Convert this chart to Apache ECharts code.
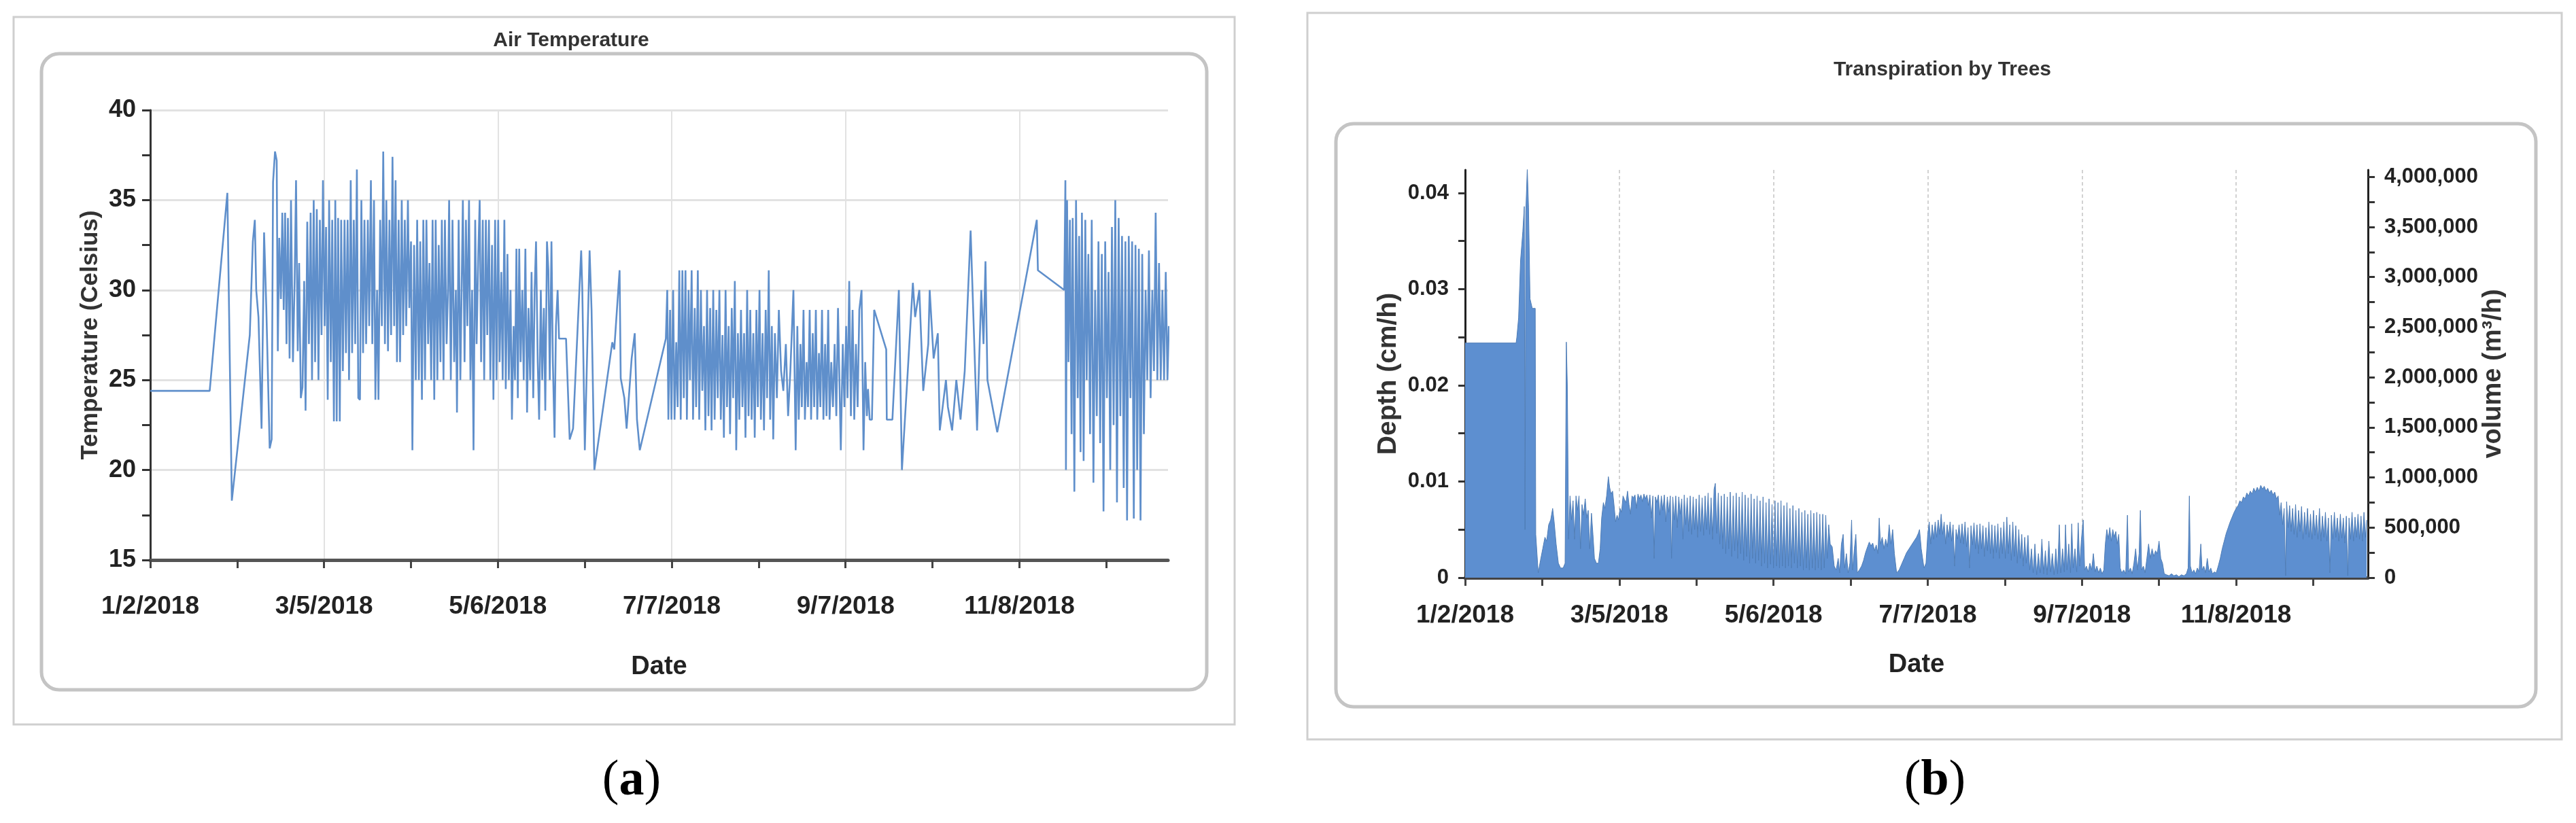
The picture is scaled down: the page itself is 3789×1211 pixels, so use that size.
<!DOCTYPE html>
<html><head><meta charset="utf-8">
<script src="https://cdn.jsdelivr.net/npm/echarts@6/dist/echarts.min.js"></script>
<style>html,body{margin:0;padding:0;background:#fff}#c{width:3789px;height:1211px}</style>
</head><body><div id="c"></div>
<script>
// ---- tick labels ----
const dateTickLabels = ['1/2/2018','3/5/2018','5/6/2018','7/7/2018','9/7/2018','11/8/2018'];
const dateLabelDays = [0,62,124,186,248,310];          // days since 1/2/2018
const dateTickDays = [0,31,62,93,124,155,186,217,248,279,310,341];
const depthTickLabels = ['0','0.01','0.02','0.03','0.04'];
const depthLabelValues = [0,0.01,0.02,0.03,0.04];
const depthTickValues = [0,0.005,0.01,0.015,0.02,0.025,0.03,0.035,0.04];
const volumeTickLabels = ['0','500,000','1,000,000','1,500,000','2,000,000','2,500,000','3,000,000','3,500,000','4,000,000'];
const volumeLabelValues = [0,500000,1000000,1500000,2000000,2500000,3000000,3500000,4000000];
const volumeTickValues = [0,250000,500000,750000,1000000,1250000,1500000,1750000,2000000,2250000,2500000,2750000,3000000,3250000,3500000,3750000,4000000];

// ---- (a) air temperature: [day since 1/2/2018, °C] ----
const airTemp = [
[0,24.4],[21.2,24.4],[27.5,35.4],[29.1,18.3],[35.5,27.5],[36.6,32.7],[37.3,33.9],[37.8,30.0],[38.6,28.5],[39.7,22.3],[40.6,33.2],[41.4,29.0],[42.6,21.2],[43.3,21.7],[43.8,36.0],[44.5,37.7],[45.1,37.2],[45.5,26.6],[46.0,32.9],[46.6,29.5],[47.1,34.3],[47.6,28.9],[48.1,34.3],[48.6,27.0],[49.1,34.0],[49.7,26.2],[50.2,35.0],[50.9,26.0],[51.5,30.5],[52.0,36.1],[52.6,26.6],[53.1,31.5],[53.7,24.0],[54.3,24.6],[54.9,30.5],[55.4,23.3],[56.0,33.8],[56.6,27.0],[57.2,34.3],[57.7,25.0],[58.3,35.0],[58.8,26.0],[59.4,34.5],[60.0,25.0],[60.5,33.9],[61.1,27.5],[61.6,36.1],[62.2,28.0],[62.7,33.5],[63.3,23.9],[63.8,35.0],[64.4,26.0],[64.9,33.9],[65.5,22.7],[66.0,35.0],[66.5,22.7],[67.0,34.0],[67.6,22.7],[68.1,33.9],[68.7,25.5],[69.3,33.9],[69.8,26.5],[70.4,33.9],[70.9,25.0],[71.5,36.1],[72.0,26.5],[72.6,33.9],[73.1,27.0],[73.7,36.7],[74.2,24.0],[74.8,23.9],[75.3,35.0],[75.9,26.5],[76.4,33.9],[77.0,27.0],[77.6,33.9],[78.1,28.0],[78.7,36.1],[79.2,27.0],[79.8,35.0],[80.3,23.9],[80.9,30.0],[81.4,23.9],[82.0,33.9],[82.6,28.0],[83.1,37.7],[83.7,27.0],[84.2,35.0],[84.8,26.6],[85.3,33.9],[85.9,27.5],[86.4,37.4],[87.0,28.0],[87.5,36.1],[88.0,26.0],[88.6,33.9],[89.1,26.0],[89.7,35.0],[90.2,27.5],[90.8,33.9],[91.3,28.0],[91.9,35.0],[92.4,29.0],[93.0,32.7],[93.5,21.1],[94.1,32.5],[94.7,25.0],[95.2,33.9],[95.8,25.0],[96.3,32.7],[96.9,23.9],[97.4,33.9],[98.0,25.0],[98.5,33.9],[99.1,27.0],[99.6,31.5],[100.2,25.0],[100.7,33.9],[101.3,23.9],[101.8,33.9],[102.4,25.0],[102.9,32.5],[103.5,26.0],[104.0,33.9],[104.6,25.0],[105.1,33.9],[105.7,27.0],[106.2,30.0],[106.6,35.0],[107.2,25.0],[107.8,33.9],[108.4,26.0],[109.0,30.0],[109.4,23.2],[110.0,33.9],[110.6,25.0],[111.1,30.5],[111.5,35.0],[112.1,26.0],[112.6,33.9],[113.1,28.0],[113.7,35.0],[114.2,25.0],[114.8,30.0],[115.3,21.1],[115.9,33.9],[116.4,27.0],[117.0,32.0],[117.5,35.0],[118.0,26.0],[118.6,33.9],[119.1,25.0],[119.7,33.9],[120.2,27.5],[120.8,33.9],[121.3,25.0],[121.9,32.5],[122.4,23.9],[123.0,33.9],[123.5,25.0],[124.1,33.9],[124.6,26.0],[125.2,31.0],[125.7,25.0],[126.3,33.9],[126.8,24.5],[127.4,32.0],[127.9,25.0],[128.5,30.0],[129.0,22.8],[129.6,28.0],[130.1,25.0],[130.6,32.3],[131.1,24.0],[131.6,32.3],[132.1,26.0],[132.7,30.0],[133.2,25.0],[133.8,32.3],[134.4,23.2],[134.9,29.0],[135.5,25.0],[136.0,31.0],[136.6,24.0],[137.1,30.0],[137.6,32.7],[138.2,26.0],[138.7,22.8],[139.3,30.0],[139.8,25.0],[140.4,29.0],[140.9,23.3],[141.5,32.7],[142.0,31.1],[142.5,25.0],[143.1,32.7],[143.6,26.0],[144.2,21.8],[144.7,28.0],[145.3,30.0],[145.8,27.3],[148.3,27.3],[149.6,21.7],[150.8,22.3],[153.7,32.2],[154.1,30.0],[155.0,21.1],[156.7,32.2],[157.4,28.9],[158.4,20.0],[164.8,27.1],[165.5,26.7],[167.4,31.1],[167.8,25.1],[169.1,24.0],[169.9,22.3],[171.7,26.2],[172.8,27.6],[173.6,22.8],[174.6,21.1],[183.9,27.3],
[184.4,30.0],[184.8,22.8],[185.4,28.9],[185.9,22.8],[186.5,30.0],[187.0,22.8],[187.6,27.1],[188.1,23.5],[188.7,31.1],[189.2,22.8],[189.8,31.1],[190.3,24.0],[190.9,31.1],[191.4,22.8],[192.0,30.0],[192.5,25.0],[193.1,31.1],[193.6,22.8],[194.2,29.0],[194.7,23.5],[195.3,31.1],[195.8,22.8],[196.4,30.0],[196.9,24.4],[197.5,28.0],[198.0,22.2],[198.6,30.0],[199.1,23.0],[199.7,29.0],[200.2,22.2],[200.8,30.0],[201.3,22.8],[201.9,28.9],[202.4,24.0],[203.0,30.0],[203.5,22.8],[204.1,27.5],[204.6,21.8],[205.2,30.0],[205.7,23.5],[206.3,28.0],[206.8,22.0],[207.4,29.0],[207.9,24.0],[208.5,30.5],[209.0,21.1],[209.6,27.6],[210.1,22.8],[210.7,28.9],[211.2,23.5],[211.8,27.6],[212.3,21.8],[212.9,30.0],[213.4,23.0],[214.0,28.9],[214.5,22.8],[215.1,27.6],[215.6,21.8],[216.2,28.9],[216.7,23.5],[217.3,30.0],[217.8,22.8],[218.4,27.6],[218.9,22.2],[219.5,28.9],[220.0,24.0],[220.6,31.1],[221.1,22.8],[221.7,28.0],[222.2,21.7],[222.8,27.6],[223.5,24.0],[224.2,28.9],[225.0,25.5],[225.8,24.4],[226.7,27.0],[227.5,23.0],[228.3,25.5],[229.4,30.0],[230.2,21.1],[230.8,28.0],[231.3,22.8],[231.9,27.0],[232.4,23.5],[233.0,28.9],[233.5,22.8],[234.1,26.0],[234.6,23.5],[235.2,28.9],[235.7,22.8],[236.3,27.6],[236.8,23.5],[237.4,28.9],[237.9,22.8],[238.5,26.5],[239.0,23.5],[239.6,28.9],[240.1,22.8],[240.7,27.0],[241.2,23.0],[241.8,28.9],[242.3,22.8],[242.9,26.0],[243.5,23.5],[244.1,27.0],[244.7,23.0],[245.3,29.0],[246.3,21.1],[247.0,27.0],[247.6,23.5],[248.2,28.0],[248.7,24.0],[249.3,30.5],[249.9,23.0],[250.5,28.9],[251.1,22.8],[251.7,27.0],[252.3,23.5],[252.9,28.9],[253.7,30.0],[254.4,21.1],[255.0,26.0],[255.6,23.0],[256.0,24.5],[256.6,22.8],[257.4,22.8],[258.2,28.9],[262.5,26.7],[262.7,22.8],[264.7,22.8],[267.0,30.0],[268.1,20.0],[270.0,25.0],[272.0,30.4],[272.8,28.5],[274.3,30.0],[275.7,24.4],[277.5,27.0],[278.0,30.0],[279.4,26.2],[280.9,27.6],[281.6,22.2],[283.8,25.0],[284.5,23.5],[286.0,22.2],[287.5,25.0],[289.0,22.8],[290.5,25.5],[292.6,33.3],[294.9,22.2],[296.4,30.0],[297.2,27.0],[297.9,31.6],[298.6,25.0],[302.1,22.1],[316.2,33.9],[316.6,31.1],[326.0,30.0],[326.4,36.1],
[326.6,20.0],[327.0,35.0],[327.5,26.0],[328.0,33.9],[328.6,22.0],[329.0,34.0],[329.6,18.8],[330.2,35.0],[330.8,24.0],[331.3,33.0],[331.8,21.0],[332.3,34.3],[332.9,20.5],[333.5,33.9],[334.0,25.0],[334.6,32.0],[335.2,22.0],[335.8,33.9],[336.4,19.3],[337.0,30.0],[337.6,23.0],[338.2,32.7],[338.8,21.5],[339.4,32.0],[340.0,17.7],[340.6,32.7],[341.2,24.0],[341.8,31.0],[342.4,20.0],[343.0,33.5],[343.6,22.5],[344.2,35.0],[344.8,18.2],[345.4,34.0],[346.0,23.0],[346.6,33.0],[347.2,19.0],[347.8,32.7],[348.4,17.2],[349.0,33.0],[349.6,24.0],[350.2,32.7],[350.8,17.3],[351.4,32.5],[352.0,20.0],[352.6,32.3],[353.2,17.2],[353.8,32.0],[354.4,22.0],[355.0,30.0],[355.6,25.0],[356.2,32.2],[356.8,24.0],[357.4,30.0],[358.0,25.5],[358.6,34.3],[359.2,25.0],[359.8,31.5],[360.4,25.0],[361.0,30.0],[361.6,25.0],[362.2,31.0],[362.8,25.0],[363.3,28.0]
];

// ---- (b) transpiration depth: [day since 1/2/2018, cm/h] ----
const transpDepth = [
[0,0.0244],[20.5,0.0244],[20.8,0.025],[21.5,0.027],[22.3,0.033],[23.2,0.036],[23.8,0.0386],[24.1,0.005],[24.4,0.038],[25.0,0.0425],[25.5,0.0385],[26.1,0.029],[27.0,0.028],[28.2,0.028],[28.4,0.0045],[29.4,0.0005],[30.3,0.0018],[31.2,0.003],[32.1,0.0042],[32.8,0.0038],[33.6,0.0055],[34.4,0.006],[35.2,0.0072],[35.8,0.0058],[36.6,0.0035],[37.5,0.0015],[38.4,0.001],[39.4,0.001],[40.2,0.0015],[40.7,0.0245],[41.1,0.02],[41.6,0.004],[42.2,0.0085],[42.8,0.006],[43.4,0.008],[44.0,0.004],[44.6,0.0085],[45.2,0.007],[45.8,0.0085],[46.4,0.003],[47.0,0.0076],[47.6,0.0065],[48.3,0.0082],[48.9,0.0062],[49.5,0.007],[50.1,0.003],[50.8,0.0067],[51.4,0.0045],[52.0,0.002],[52.8,0.0015],[53.6,0.0015],[54.3,0.003],[54.9,0.0062],[55.6,0.0078],[56.2,0.0072],[56.9,0.0085],[57.6,0.0105],[58.1,0.0094],[58.7,0.0087],[59.3,0.009],[59.9,0.0075],[60.5,0.0058],[61.1,0.0065],[61.7,0.006],[62.3,0.0072],[62.9,0.0068],[63.5,0.0085],[64.1,0.0081],[64.7,0.0078],[65.3,0.009],[65.9,0.0076],[66.5,0.0066],[67.1,0.0085],[67.7,0.0083],[68.3,0.0086],[68.9,0.0072],[69.5,0.0087],[70.1,0.0082],[70.7,0.0086],[71.3,0.0079],[71.9,0.0087],[72.5,0.0082],[73.1,0.0086],[73.7,0.0075],[74.3,0.0086],[74.9,0.0062],[75.5,0.0085],[76.0,0.002],[76.5,0.0084],[77.1,0.0078],[77.7,0.0086],[78.3,0.0065],[78.9,0.0085],[79.5,0.007],[80.1,0.0086],[80.7,0.0058],[81.3,0.0084],[81.9,0.0068],[82.5,0.0085],[83.0,0.002],[83.5,0.0084],[84.1,0.006],[84.7,0.0085],[85.3,0.0052],[85.9,0.0084],[86.5,0.0066],[87.1,0.0082],[87.6,0.004],[88.1,0.0086],[88.7,0.0055],[89.3,0.0083],[89.9,0.0048],[90.5,0.0085],[91.1,0.0045],[91.7,0.0084],[92.3,0.005],[92.9,0.0082],[93.5,0.0042],[94.1,0.0086],[94.7,0.0048],[95.3,0.0083],[95.9,0.0044],[96.5,0.0085],[97.1,0.005],[97.7,0.0088],[98.3,0.0045],[98.9,0.0083],[99.5,0.004],[100.1,0.0092],[100.6,0.0098],[101.2,0.0046],[101.8,0.0088],[102.4,0.0035],[103.0,0.0085],[103.6,0.003],[104.2,0.0087],[104.8,0.0025],[105.4,0.0084],[106.0,0.003],[106.6,0.0089],[107.2,0.0022],[107.8,0.0085],[108.4,0.0028],[109.0,0.0088],[109.6,0.002],[110.2,0.0084],[110.8,0.0025],[111.4,0.0089],[112.0,0.0018],[112.6,0.0086],[113.2,0.0022],[113.8,0.0083],[114.4,0.0015],[115.0,0.0087],[115.6,0.002],[116.2,0.0082],[116.8,0.0015],[117.4,0.0085],[118.0,0.0018],[118.6,0.008],[119.2,0.0012],[119.8,0.0084],[120.4,0.0015],[121.0,0.0078],[121.6,0.001],[122.2,0.0082],[122.8,0.0014],[123.4,0.0076],[124.0,0.001],[124.6,0.008],[125.2,0.0012],[125.8,0.0078],[126.4,0.001],[127.0,0.008],[127.6,0.0012],[128.2,0.0075],[128.8,0.001],[129.4,0.0078],[130.0,0.0012],[130.6,0.0072],[131.2,0.001],[131.8,0.0075],[132.4,0.0015],[133.0,0.007],[133.6,0.001],[134.2,0.0072],[134.8,0.0012],[135.4,0.0068],[136.0,0.0008],[136.6,0.007],[137.2,0.001],[137.8,0.0066],[138.4,0.0008],[139.0,0.007],[139.6,0.001],[140.2,0.0067],[140.8,0.0008],[141.4,0.0068],[142.0,0.001],[142.6,0.0066],[143.2,0.0008],[143.8,0.0066],[144.4,0.001],[145.0,0.0065],[145.6,0.002],[146.2,0.0055],[146.8,0.0035],[147.6,0.0032],[148.4,0.0012],[149.2,0.0008],[150.0,0.002],[150.6,0.0005],[151.3,0.0035],[152.0,0.0045],[152.6,0.001],[153.3,0.0025],[154.0,0.0005],[154.7,0.0015],[155.4,0.006],[155.8,0.0008],[156.5,0.003],[157.1,0.0045],[157.7,0.0005],[158.5,0.0008],[159.4,0.0012],[160.2,0.0018],[161.0,0.0026],[161.8,0.0032],[162.5,0.0037],[163.2,0.0033],[163.9,0.0036],[164.6,0.0028],[165.3,0.0034],[166.0,0.0025],[166.5,0.0062],[167.0,0.0035],[167.7,0.0042],[168.4,0.003],[169.1,0.004],[169.8,0.0032],[170.5,0.0055],[171.2,0.0035],[171.9,0.005],[172.6,0.0025],[173.5,0.0005],[174.5,0.0008],[175.5,0.0014],[176.5,0.002],[177.5,0.0026],[178.5,0.003],[179.5,0.0034],[180.5,0.0038],[181.5,0.0042],[182.2,0.0046],[182.7,0.005],[183.4,0.003],[184.5,0.001],[185.3,0.0015],[186.0,0.0045],[186.6,0.0058],[187.2,0.0035],[187.8,0.0055],[188.4,0.004],[189.0,0.0058],[189.6,0.0042],[190.2,0.006],[190.8,0.0045],[191.4,0.0066],[192.0,0.0045],[192.6,0.0058],[193.2,0.0035],[193.8,0.0055],[194.4,0.0042],[195.0,0.0058],[195.6,0.0038],[196.2,0.0055],[196.8,0.0012],[197.4,0.005],[198.0,0.004],[198.6,0.0055],[199.2,0.0036],[199.8,0.0056],[200.4,0.0035],[201.0,0.0058],[201.6,0.0032],[202.2,0.0052],[202.8,0.001],[203.4,0.0054],[204.0,0.0034],[204.6,0.0057],[205.2,0.003],[205.8,0.0055],[206.4,0.0025],[207.0,0.0056],[207.6,0.003],[208.2,0.0054],[208.8,0.0022],[209.4,0.0052],[210.0,0.0028],[210.6,0.0058],[211.2,0.0025],[211.8,0.0055],[212.4,0.002],[213.0,0.0054],[213.6,0.0026],[214.2,0.0056],[214.8,0.002],[215.4,0.0052],[216.0,0.0025],[216.6,0.0058],[217.2,0.002],[217.8,0.0063],[218.4,0.0025],[219.0,0.0055],[219.6,0.0018],[220.2,0.0058],[220.8,0.0022],[221.4,0.0054],[222.0,0.0015],[222.6,0.005],[223.2,0.002],[223.8,0.0045],[224.4,0.0012],[225.0,0.0042],[225.6,0.0015],[226.3,0.0044],[227.0,0.0008],[227.7,0.003],[228.4,0.0005],[229.1,0.0035],[229.8,0.0003],[230.5,0.0025],[231.2,0.0005],[231.9,0.004],[232.6,0.0004],[233.3,0.0028],[234.0,0.0003],[234.7,0.0038],[235.4,0.0006],[236.1,0.0025],[236.8,0.0003],[237.5,0.003],[238.2,0.0004],[238.9,0.0055],[239.5,0.0005],[240.2,0.003],[240.9,0.0006],[241.4,0.0055],[242.0,0.0008],[242.7,0.0035],[243.4,0.0005],[243.9,0.0056],[244.5,0.001],[245.2,0.003],[245.9,0.0006],[246.5,0.0057],[247.1,0.0012],[247.8,0.004],[248.5,0.006],[249.1,0.0008],[249.8,0.0012],[250.5,0.0006],[251.2,0.0015],[251.9,0.0008],[252.6,0.0025],[253.3,0.0006],[254.0,0.0012],[254.7,0.0005],[255.4,0.001],[256.1,0.0004],[256.8,0.0008],[257.4,0.0035],[258.0,0.005],[258.6,0.004],[259.2,0.0052],[259.8,0.0038],[260.4,0.005],[261.0,0.0042],[261.6,0.0048],[262.2,0.0035],[262.8,0.0045],[263.4,0.001],[264.0,0.0005],[264.8,0.0008],[265.6,0.0004],[266.3,0.0065],[266.8,0.0006],[267.5,0.001],[268.2,0.0004],[268.9,0.0015],[269.6,0.003],[270.3,0.0008],[271.0,0.0025],[271.5,0.007],[272.0,0.0008],[272.7,0.0012],[273.4,0.0005],[274.1,0.002],[274.8,0.0035],[275.5,0.002],[276.2,0.003],[276.9,0.0022],[277.6,0.0028],[278.3,0.0025],[279.0,0.0038],[279.7,0.002],[280.4,0.0015],[281.1,0.0004],[282.0,0.0003],[283.0,0.0002],[284.0,0.0004],[285.0,0.0002],[286.0,0.0003],[287.0,0.0001],[288.0,0.0003],[289.0,0.0002],[290.0,0.0004],[290.7,0.001],[291.2,0.0085],[291.6,0.0012],[292.3,0.0005],[293.0,0.0008],[293.7,0.0004],[294.4,0.001],[295.1,0.0006],[295.8,0.0035],[296.3,0.0008],[297.0,0.0012],[297.7,0.0005],[298.4,0.002],[299.1,0.0006],[299.8,0.001],[300.5,0.0004],[301.2,0.0006],[302.0,0.0005],[302.8,0.0012],[303.6,0.002],[304.4,0.003],[305.2,0.0038],[306.0,0.0046],[306.8,0.0052],[307.6,0.0058],[308.4,0.0063],[309.2,0.0068],[310.0,0.0072],[310.8,0.0075],[311.5,0.008],[312.2,0.0078],[312.9,0.0084],[313.6,0.0082],[314.3,0.0088],[315.0,0.0085],[315.7,0.009],[316.4,0.0087],[317.1,0.0093],[317.8,0.0089],[318.5,0.0094],[319.2,0.009],[319.9,0.0096],[320.6,0.0092],[321.3,0.0095],[322.0,0.009],[322.7,0.0093],[323.4,0.0088],[324.1,0.0091],[324.8,0.0086],[325.5,0.0089],[326.2,0.0082],[326.9,0.0085],[327.5,0.0065],[328.1,0.0078],[328.7,0.0055],[329.3,0.0072],[329.9,0.0002],[330.3,0.0079],[330.9,0.0052],[331.5,0.0075],[332.1,0.0048],[332.7,0.0072],[333.3,0.0045],[333.9,0.0076],[334.5,0.0042],[335.1,0.007],[335.7,0.0048],[336.3,0.0074],[336.9,0.004],[337.5,0.0068],[338.1,0.0045],[338.7,0.0072],[339.3,0.0042],[339.9,0.0066],[340.5,0.004],[341.1,0.007],[341.7,0.0044],[342.3,0.0065],[342.9,0.004],[343.5,0.0072],[344.1,0.0038],[344.7,0.0064],[345.3,0.0042],[345.9,0.0068],[346.5,0.0038],[347.1,0.0062],[347.7,0.0005],[348.3,0.0065],[348.9,0.004],[349.5,0.0068],[350.1,0.0042],[350.7,0.0062],[351.3,0.0038],[351.9,0.0066],[352.5,0.0041],[353.1,0.0062],[353.7,0.0036],[354.3,0.0064],[354.9,0.0002],[355.4,0.0062],[356.0,0.004],[356.6,0.0068],[357.2,0.0038],[357.8,0.0063],[358.4,0.0042],[359.0,0.0066],[359.6,0.004],[360.2,0.0064],[360.8,0.0038],[361.4,0.0068],[362.0,0.0042],[362.5,0.006]
];

const SANS = "'Liberation Sans',Arial,sans-serif";
const TXT = '#222';

const chart = echarts.init(document.getElementById('c'), null, {renderer:'canvas'});

function dateFmt(v){ const i = dateLabelDays.indexOf(Math.round(v)); return i >= 0 ? dateTickLabels[i] : ''; }
const tickLabelStyle = {fontFamily: SANS, fontWeight: 'bold', color: TXT};

// date axis carrying labels + vertical grid lines (every 62 days)
function dateAxis(gridIndex, margin, nameGap, splitStyle, lineColor){
  return {type: 'value', gridIndex, position: 'bottom', min: 0, max: 363, interval: 62,
    axisLine: {show: true, onZero: false, lineStyle: {color: lineColor, width: 5}},
    axisTick: {show: false},
    axisLabel: Object.assign({customValues: dateLabelDays, formatter: dateFmt, margin, fontSize: 37}, tickLabelStyle),
    splitLine: {show: true, showMinLine: false, showMaxLine: false, lineStyle: splitStyle},
    name: 'Date', nameLocation: 'middle', nameGap,
    nameTextStyle: {fontFamily: SANS, fontWeight: 'bold', fontSize: 38, color: TXT}};
}
// companion axis carrying only the monthly (31-day) tick marks
function dateTickAxis(gridIndex){
  return {type: 'value', gridIndex, position: 'bottom', min: 0, max: 363,
    axisLine: {show: false}, axisLabel: {show: false}, splitLine: {show: false},
    axisTick: {show: true, customValues: dateTickDays, length: 12, lineStyle: {color: '#444', width: 3}}};
}

const option = {
  animation: false,
  backgroundColor: '#ffffff',
  title: [
    {text: 'Air Temperature', left: 835, top: 40, textAlign: 'center',
     textStyle: {fontFamily: SANS, fontWeight: 'bold', fontSize: 30, color: '#333'}},
    {text: 'Transpiration by Trees', left: 2852, top: 83, textAlign: 'center',
     textStyle: {fontFamily: SANS, fontWeight: 'bold', fontSize: 30, color: '#333'}}
  ],
  grid: [
    {left: 221, top: 162, width: 1497, height: 662, containLabel: false},
    {left: 2155, top: 250, width: 1328, height: 600, containLabel: false}
  ],
  xAxis: [
    dateAxis(0, 50, 139, {color: '#e2e2e2', width: 2}, '#555'),
    dateAxis(1, 37, 110, {color: '#d2d2d2', width: 2, type: [5, 4]}, '#444'),
    dateTickAxis(0),
    dateTickAxis(1)
  ],
  yAxis: [
    {type: 'value', gridIndex: 0, min: 15, max: 40, interval: 5,
     axisLine: {show: true, lineStyle: {color: '#333', width: 3}},
     axisTick: {show: true, length: 12, lineStyle: {color: '#333', width: 3}},
     minorTick: {show: true, splitNumber: 2, length: 12, lineStyle: {color: '#333', width: 3}},
     minorSplitLine: {show: false},
     axisLabel: Object.assign({margin: 21, fontSize: 36}, tickLabelStyle),
     splitLine: {show: true, lineStyle: {color: '#e2e2e2', width: 3}},
     name: 'Temperature (Celsius)', nameLocation: 'middle', nameRotate: 90, nameGap: 70,
     nameTextStyle: {fontFamily: SANS, fontWeight: 'bold', fontSize: 35, color: '#333'}},
    {type: 'value', gridIndex: 1, min: 0, max: 0.0424, interval: 0.01, position: 'left',
     axisLine: {show: true, onZero: false, lineStyle: {color: '#222', width: 3}},
     axisTick: {show: true, customValues: depthTickValues, length: 10, lineStyle: {color: '#333', width: 3}},
     axisLabel: Object.assign({customValues: depthLabelValues, margin: 24, fontSize: 31,
       formatter: v => depthTickLabels[Math.round(v / 0.01)]}, tickLabelStyle),
     splitLine: {show: false},
     name: 'Depth (cm/h)', nameLocation: 'middle', nameRotate: 90, nameGap: 93,
     nameTextStyle: {fontFamily: SANS, fontWeight: 'bold', fontSize: 39, color: '#333'}},
    {type: 'value', gridIndex: 1, min: 0, max: 4070000, interval: 500000, position: 'right',
     axisLine: {show: true, onZero: false, lineStyle: {color: '#222', width: 3}},
     axisTick: {show: true, customValues: volumeTickValues, length: 10, lineStyle: {color: '#333', width: 3}},
     axisLabel: Object.assign({customValues: volumeLabelValues, margin: 24, fontSize: 31,
       formatter: v => volumeTickLabels[Math.round(v / 500000)]}, tickLabelStyle),
     splitLine: {show: false},
     name: 'volume (m³/h)', nameLocation: 'middle', nameRotate: 90, nameGap: 163,
     nameTextStyle: {fontFamily: SANS, fontWeight: 'bold', fontSize: 38, color: '#333'}}
  ],
  series: [
    {type: 'line', name: 'Air Temperature', xAxisIndex: 0, yAxisIndex: 0, data: airTemp,
     showSymbol: false, symbol: 'none', z: 3,
     lineStyle: {color: '#5f8fcb', width: 2.6}},
    {type: 'line', name: 'Transpiration', xAxisIndex: 1, yAxisIndex: 1, data: transpDepth,
     showSymbol: false, symbol: 'none', z: 3,
     lineStyle: {color: '#4f7db6', width: 1},
     areaStyle: {color: '#5d8fd0', opacity: 1}}
  ],
  graphic: [
    {type: 'rect', z: -10, shape: {x: 20, y: 25, width: 1796, height: 1041}, style: {fill: '#fff', stroke: '#cfcfcf', lineWidth: 3}},
    {type: 'rect', z: -9, shape: {x: 61, y: 79, width: 1714, height: 936, r: 26}, style: {fill: '#fff', stroke: '#c4c4c4', lineWidth: 5}},
    {type: 'rect', z: -10, shape: {x: 1923, y: 19, width: 1845, height: 1069}, style: {fill: '#fff', stroke: '#cfcfcf', lineWidth: 3}},
    {type: 'rect', z: -9, shape: {x: 1965, y: 182, width: 1765, height: 858, r: 26}, style: {fill: '#fff', stroke: '#c4c4c4', lineWidth: 5}},
    {type: 'text', x: 929, y: 1150, style: {text: '{n|(}{b|a}{n|)}', align: 'center', verticalAlign: 'middle',
      rich: {n: {fontFamily: "'Liberation Serif','Times New Roman',serif", fontSize: 74, fill: '#000'},
             b: {fontFamily: "'Liberation Serif','Times New Roman',serif", fontSize: 74, fontWeight: 'bold', fill: '#000'}}}},
    {type: 'text', x: 2846, y: 1150, style: {text: '{n|(}{b|b}{n|)}', align: 'center', verticalAlign: 'middle',
      rich: {n: {fontFamily: "'Liberation Serif','Times New Roman',serif", fontSize: 74, fill: '#000'},
             b: {fontFamily: "'Liberation Serif','Times New Roman',serif", fontSize: 74, fontWeight: 'bold', fill: '#000'}}}}
  ]
};
chart.setOption(option);
</script>
</body></html>
